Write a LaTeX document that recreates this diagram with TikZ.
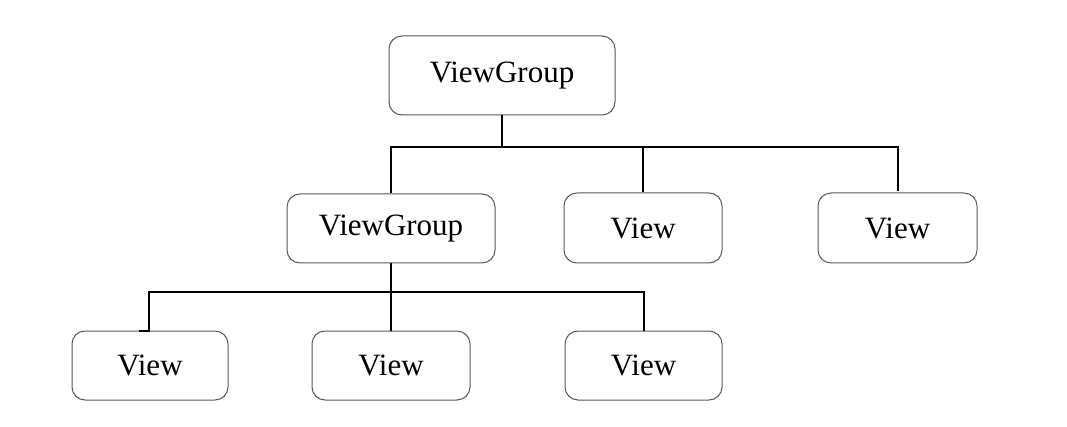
\documentclass[tikz,border=0pt]{standalone}
\usepackage{fontspec}
\setmainfont{Liberation Serif}
\begin{document}
\begin{tikzpicture}[x=1pt,y=-1pt,
  box/.style={draw=black!65, line width=1pt, rounded corners=13pt, fill=white,
    inner sep=0pt, font=\fontsize{31}{37}\selectfont, text=black},
  conn/.style={draw=black, line width=2pt}]
\useasboundingbox (0,0) rectangle (1067,427);
\node[box, minimum width=226pt, minimum height=79pt] (top) at (502,75.5) {ViewGroup};
\node[box, minimum width=208pt, minimum height=69pt] (vg2) at (391,228.5) {ViewGroup};
\node[box, minimum width=158pt, minimum height=70pt] (v2) at (643,228) {View};
\node[box, minimum width=159pt, minimum height=70pt] (v3) at (897.5,228) {View};
\node[box, minimum width=156pt, minimum height=69pt] (v4) at (150,365.5) {View};
\node[box, minimum width=158pt, minimum height=69pt] (v5) at (391,365.5) {View};
\node[box, minimum width=157pt, minimum height=69pt] (v6) at (643.5,365.5) {View};
\coordinate (bus1) at (502,147);
\coordinate (bus2) at (391,292);
\coordinate (lcorner) at (149,292);
\coordinate (lfoot) at (149,331);
\coordinate (lstub) at (139,331);
\coordinate (v3top) at (898,191);
\draw[conn] (top.south) -- (bus1);
\draw[conn] (vg2.north) -- (vg2.north |- bus1) -- (v3top |- bus1) -- (v3top);
\draw[conn] (v2.north) -- (v2.north |- bus1);
\draw[conn] (vg2.south) -- (v5.north);
\draw[conn] (v6.north) -- (v6.north |- bus2) -- (lcorner) -- (lfoot) -- (lstub);
\end{tikzpicture}
\end{document}
